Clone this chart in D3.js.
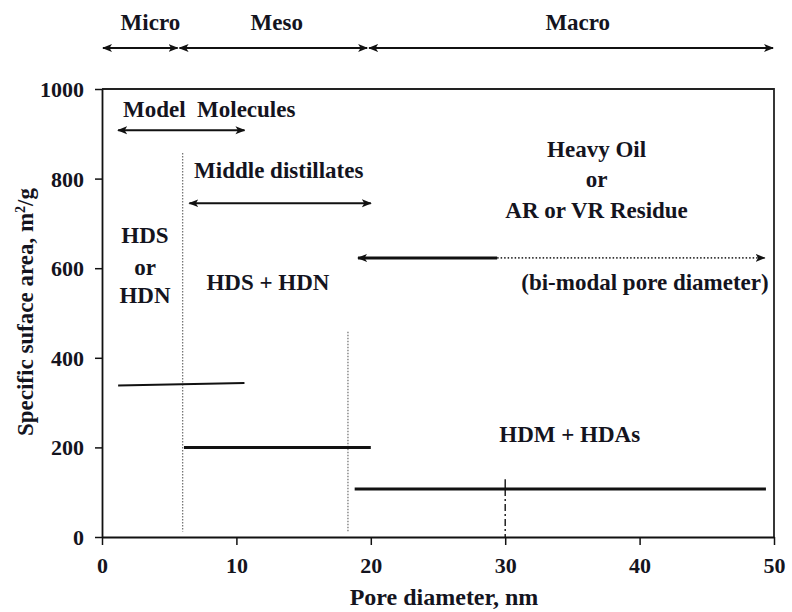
<!DOCTYPE html>
<html>
<head>
<meta charset="utf-8">
<script src="https://cdn.jsdelivr.net/npm/d3@7"></script>
<style>
  body { margin: 0; background: white; }
  text { font-family: "Liberation Serif", "DejaVu Serif", serif; font-weight: bold; fill: #14141e; }
</style>
</head>
<body>
<div id="container"></div>
<script>
let w = 792;
let h = 612;
let serif = "'Liberation Serif', 'DejaVu Serif', serif";
let fs = 23;

// pore size classes (nm)
let classNames = ["Micro", "Meso", "Macro"];
let classBounds = [0, 5.7, 19.8, 50];
let classLabelX = [3.6, 13.0, 35.4];

// surface area ranges per feed
let segStart = [1.2, 6.1, 18.8];
let segEnd = [10.6, 20, 49.4];
let segArea = [[338, 344], [200, 200], [107, 107]];

// dotted boundaries
let boundX = [6.0, 18.3];
let boundTop = [857, 458];
let boundBottom = 12;

// feed ranges (arrows)
let feedNames = ["Model  Molecules", "Middle distillates"];
let feedStart = [1.2, 6.5];
let feedEnd = [10.6, 20];
let feedArrowY = [908, 745];
let feedLabelX = [1.56, 6.85];
let feedLabelY = [937, 801];

// heavy oil
let heavyLines = ["Heavy Oil", "or", "AR or VR Residue"];
let heavyLineY = [848, 781, 712];
let heavyX = 36.8;
let heavyArrow = [19.05, 29.4, 49.3];
let heavyArrowY = 623;

let xTicks = [0, 10, 20, 30, 40, 50];
let yTicks = [0, 200, 400, 600, 800, 1000];

let viz = d3.select("#container").append("svg")
    .attr("width", w)
    .attr("height", h)
;

let x = d3.scaleLinear().domain([0, 50]).range([102, 774]);
let y = d3.scaleLinear().domain([0, 1000]).range([537, 89]);

// arrow heads
let defs = viz.append("defs");
defs.append("marker")
    .attr("id", "head")
    .attr("viewBox", "0 0 10 10")
    .attr("refX", 9)
    .attr("refY", 5)
    .attr("markerWidth", 10)
    .attr("markerHeight", 10)
    .attr("markerUnits", "userSpaceOnUse")
    .attr("orient", "auto-start-reverse")
  .append("path")
    .attr("d", "M0,1 L10,5 L0,9 L2.5,5 z")
    .attr("fill", "#111")
;

// frame
viz.append("path")
    .attr("d", "M" + x(0) + "," + y(1000) + " H" + x(50) + " V" + y(0))
    .attr("fill", "none")
    .attr("stroke", "#222")
    .attr("stroke-width", 1.8)
;

// axes
let xAxis = viz.append("g")
    .attr("transform", "translate(0," + y(0) + ")")
    .call(d3.axisBottom(x).tickValues(xTicks).tickFormat(d3.format("d")).tickSize(8).tickSizeOuter(0).tickPadding(12))
;
let yAxis = viz.append("g")
    .attr("transform", "translate(" + x(0) + ",0)")
    .call(d3.axisLeft(y).tickValues(yTicks).tickFormat(d3.format("d")).tickSize(7).tickSizeOuter(0).tickPadding(11))
;
[xAxis, yAxis].forEach(function(ax) {
  ax.select(".domain").attr("stroke", "#111").attr("stroke-width", 1.8);
  ax.selectAll(".tick line").attr("stroke", "#111").attr("stroke-width", 1.5);
  ax.selectAll(".tick text")
      .attr("fill", "#14141e")
      .attr("font-family", serif)
      .attr("font-weight", "bold")
      .attr("font-size", 22);
});
yAxis.selectAll(".tick text").attr("dy", "0.34em");

viz.append("text")
    .text("Pore diameter, nm")
    .attr("x", (x(0) + x(50)) / 2 + 6)
    .attr("y", 605)
    .attr("text-anchor", "middle")
    .attr("font-size", 24)
;
let yLab = viz.append("text")
    .attr("transform", "translate(33," + ((y(0) + y(1000)) / 2 - 1) + ") rotate(-90)")
    .attr("text-anchor", "middle")
    .attr("font-size", fs)
;
yLab.append("tspan").text("Specific suface area, m");
yLab.append("tspan").text("2").attr("font-size", 14).attr("dy", -8);
yLab.append("tspan").text("/g").attr("dy", 8);

// pore classes on top
for (let i = 0; i < classNames.length; i++) {
  viz.append("line")
      .attr("x1", x(classBounds[i]) + 1)
      .attr("x2", x(classBounds[i + 1]) - 1)
      .attr("y1", 48).attr("y2", 48)
      .attr("stroke", "#111")
      .attr("stroke-width", 1.8)
      .attr("marker-start", "url(#head)")
      .attr("marker-end", "url(#head)")
  ;
  viz.append("text")
      .text(classNames[i])
      .attr("x", x(classLabelX[i]))
      .attr("y", 30)
      .attr("text-anchor", "middle")
      .attr("font-size", fs)
  ;
}

// dotted boundaries
for (let i = 0; i < boundX.length; i++) {
  viz.append("line")
      .attr("x1", x(boundX[i])).attr("x2", x(boundX[i]))
      .attr("y1", y(boundTop[i])).attr("y2", y(boundBottom))
      .attr("stroke", "#777")
      .attr("stroke-width", 1.3)
      .attr("stroke-dasharray", "1.5,1.5")
  ;
}

// dash-dot at 30 nm
viz.append("line")
    .attr("x1", x(30)).attr("x2", x(30))
    .attr("y1", y(129)).attr("y2", y(segArea[2][0]))
    .attr("stroke", "#111").attr("stroke-width", 1.4)
;
viz.append("line")
    .attr("x1", x(30)).attr("x2", x(30))
    .attr("y1", y(segArea[2][0])).attr("y2", y(0))
    .attr("stroke", "#111").attr("stroke-width", 1.4)
    .attr("stroke-dasharray", "7,3,2,3")
;

// surface area segments
let segWidth = [2, 3, 3];
for (let i = 0; i < segStart.length; i++) {
  viz.append("line")
      .attr("x1", x(segStart[i])).attr("x2", x(segEnd[i]))
      .attr("y1", y(segArea[i][0])).attr("y2", y(segArea[i][1]))
      .attr("stroke", "#111")
      .attr("stroke-width", segWidth[i])
  ;
}

// feed arrows
for (let i = 0; i < feedNames.length; i++) {
  viz.append("line")
      .attr("x1", x(feedStart[i])).attr("x2", x(feedEnd[i]))
      .attr("y1", y(feedArrowY[i])).attr("y2", y(feedArrowY[i]))
      .attr("stroke", "#111")
      .attr("stroke-width", 2)
      .attr("marker-start", "url(#head)")
      .attr("marker-end", "url(#head)")
  ;
  viz.append("text")
      .text(feedNames[i])
      .attr("x", x(feedLabelX[i]))
      .attr("y", y(feedLabelY[i]))
      .attr("font-size", fs)
      .style("white-space", "pre")
  ;
}

// HDS or HDN
let leftLines = ["HDS", "or", "HDN"];
let leftLineY = [656, 585, 522];
for (let i = 0; i < leftLines.length; i++) {
  viz.append("text")
      .text(leftLines[i])
      .attr("x", x(3.2))
      .attr("y", y(leftLineY[i]))
      .attr("text-anchor", "middle")
      .attr("font-size", fs)
  ;
}
viz.append("text")
    .text("HDS + HDN")
    .attr("x", x(12.35))
    .attr("y", y(551))
    .attr("text-anchor", "middle")
    .attr("font-size", fs)
;

// heavy oil
for (let i = 0; i < heavyLines.length; i++) {
  viz.append("text")
      .text(heavyLines[i])
      .attr("x", x(heavyX))
      .attr("y", y(heavyLineY[i]))
      .attr("text-anchor", "middle")
      .attr("font-size", fs)
  ;
}
viz.append("line")
    .attr("x1", x(heavyArrow[0])).attr("x2", x(heavyArrow[1]))
    .attr("y1", y(heavyArrowY)).attr("y2", y(heavyArrowY))
    .attr("stroke", "#111")
    .attr("stroke-width", 3)
    .attr("marker-start", "url(#head)")
;
viz.append("line")
    .attr("x1", x(heavyArrow[1])).attr("x2", x(heavyArrow[2]))
    .attr("y1", y(heavyArrowY)).attr("y2", y(heavyArrowY))
    .attr("stroke", "#333")
    .attr("stroke-width", 1.6)
    .attr("stroke-dasharray", "1.5,2")
    .attr("marker-end", "url(#head)")
;
viz.append("text")
    .text("(bi-modal pore diameter)")
    .attr("x", x(40.4))
    .attr("y", y(551))
    .attr("text-anchor", "middle")
    .attr("font-size", fs)
;

viz.append("text")
    .text("HDM + HDAs")
    .attr("x", x(34.8))
    .attr("y", y(212))
    .attr("text-anchor", "middle")
    .attr("font-size", fs)
;
</script>
</body>
</html>
